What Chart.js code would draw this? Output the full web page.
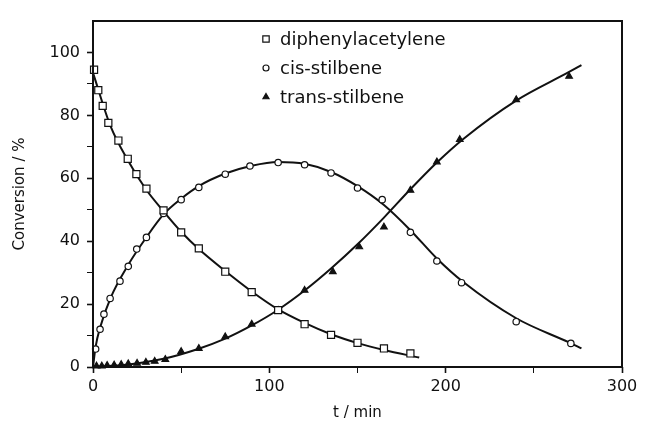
<!DOCTYPE html>
<html>
<head>
<meta charset="utf-8">
<script src="https://cdn.jsdelivr.net/npm/chart.js@4.4.1/dist/chart.umd.min.js"></script>
<style>
  html, body { margin: 0; padding: 0; background: #fff; }
  #wrap { width: 647px; height: 430px; }
</style>
</head>
<body>
<div id="wrap"><canvas id="conv" width="647" height="430"></canvas></div>
<script>
// measured points (t in min, conversion in %)
const tDiph = [0.6, 3, 5.5, 8.7, 14.4, 19.7, 24.6, 30.3, 40, 50, 60, 75, 90, 105, 120, 135, 150, 165, 180];
const diph  = [94.5, 88, 83, 77.6, 72, 66.2, 61.3, 56.7, 49.8, 42.8, 37.7, 30.3, 23.8, 18.1, 13.6, 10.2, 7.7, 5.9, 4.3];

const tCis = [1.5, 4, 6.2, 9.7, 15.3, 20, 24.8, 30.3, 40, 50, 60, 75, 89, 105, 120, 135, 150, 164, 180, 195, 209, 240, 271];
const cis  = [5.7, 12, 16.8, 21.8, 27.3, 32, 37.5, 41.2, 48.8, 53.2, 57.1, 61.3, 63.9, 65, 64.3, 61.7, 56.9, 53.2, 42.8, 33.7, 26.8, 14.4, 7.5];

const tTrans = [2, 5, 8, 12, 16, 20, 25, 30, 35, 41, 50, 60, 75, 90, 105, 120, 136, 151, 165, 180, 195, 208, 240, 270];
const trans  = [0.3, 0.3, 0.5, 0.6, 0.8, 1, 1.2, 1.5, 1.8, 2.4, 4.9, 5.9, 9.6, 13.6, 18, 24.4, 30.3, 38.2, 44.5, 56.2, 65.2, 72.3, 85, 92.4];

// fitted curves
const tFitDiph = [0, 10, 20, 30, 40, 50, 60, 75, 90, 105, 120, 135, 150, 165, 185];
const fitDiph  = [93.5, 76.5, 65.5, 56.5, 49.5, 43, 37.5, 30.5, 24, 18.3, 14, 10.4, 7.6, 5.4, 3];

const tFitCis = [0, 1.5, 4, 10, 20, 30, 40, 50, 60, 75, 90, 105, 120, 135, 150, 165, 180, 195, 210, 240, 270, 277];
const fitCis  = [0, 6.5, 12.5, 22, 32.5, 41, 48.5, 53.5, 57.5, 61.5, 64, 65.2, 64.6, 62, 57.5, 51.5, 43.5, 34.5, 27, 15.5, 7.8, 5.9];

const tFitTrans = [0, 20, 40, 60, 75, 90, 105, 120, 135, 150, 165, 180, 195, 210, 240, 270, 277];
const fitTrans  = [0, 0.8, 2.6, 5.8, 9, 13.2, 18.2, 24.3, 31.3, 39, 47.5, 56.5, 65, 72.5, 84.7, 93.8, 96];

const legendNames = ['diphenylacetylene', 'cis-stilbene', 'trans-stilbene'];

const xTicks = [0, 100, 200, 300];
const yTicks = [0, 20, 40, 60, 80, 100];

const FONT = "'DejaVu Sans', sans-serif";
const INK = '#111';

function pts(xs, ys) { return xs.map((x, i) => ({ x: x, y: ys[i] })); }

function curve(xs, ys) {
    return {
        data: pts(xs, ys),
        showLine: true,
        borderColor: INK,
        borderWidth: 2,
        pointRadius: 0,
        cubicInterpolationMode: 'monotone',
        order: 2
    };
}

function marks(xs, ys, style, fill, r) {
    return {
        data: pts(xs, ys),
        showLine: false,
        pointStyle: style,
        pointRadius: r,
        pointBackgroundColor: fill,
        pointBorderColor: INK,
        pointBorderWidth: 1.2,
        clip: false,
        order: 1
    };
}

// frame + legend inside the plot
const framePlugin = {
    id: 'frame',
    afterDraw(chart) {
        const { ctx, chartArea: a } = chart;
        ctx.save();
        ctx.strokeStyle = INK;
        ctx.lineWidth = 2;
        ctx.strokeRect(a.left, a.top, a.right - a.left, a.bottom - a.top);

        const styles = [['rect', '#fff', 4.5], ['circle', '#fff', 3], ['triangle', INK, 3.5]];
        ctx.font = '18px ' + FONT;
        ctx.textBaseline = 'middle';
        legendNames.forEach((name, i) => {
            const y = 39 + i * 29;
            ctx.fillStyle = styles[i][1];
            ctx.strokeStyle = INK;
            ctx.lineWidth = 1.2;
            Chart.helpers.drawPoint(ctx, { pointStyle: styles[i][0], radius: styles[i][2], rotation: 0, borderWidth: 1.2 }, 266, y);
            ctx.fillStyle = INK;
            ctx.fillText(name, 280, y + 1);
        });
        ctx.restore();
    }
};

const tickCol = (ctx) => (ctx.tick && ctx.tick.value > 100 && ctx.scale.axis === 'y') ? 'rgba(0,0,0,0)' : INK;

new Chart(document.getElementById('conv'), {
    type: 'scatter',
    data: {
        datasets: [
            curve(tFitDiph, fitDiph),
            curve(tFitCis, fitCis),
            curve(tFitTrans, fitTrans),
            marks(tDiph, diph, 'rect', '#fff', 5),
            marks(tCis, cis, 'circle', '#fff', 3.2),
            marks(tTrans, trans, 'triangle', INK, 3.8)
        ]
    },
    options: {
        responsive: false,
        devicePixelRatio: 1,
        animation: false,
        layout: { padding: { left: 0, top: 21, right: 25, bottom: 0 } },
        plugins: { legend: { display: false }, tooltip: { enabled: false } },
        scales: {
            x: {
                type: 'linear',
                min: 0, max: 300,
                afterFit: (s) => { s.height = 63; },
                ticks: {
                    stepSize: 50,
                    color: INK,
                    padding: 4,
                    maxRotation: 0,
                    font: { family: FONT, size: 16 },
                    callback: (v) => xTicks.includes(v) ? String(v) : ''
                },
                grid: {
                    drawOnChartArea: false, tickLength: 6, tickColor: tickCol,
                    tickWidth: (ctx) => (ctx.tick && xTicks.includes(ctx.tick.value)) ? 1.6 : 1
                },
                border: { display: false },
                title: {
                    display: true, text: 't / min', color: INK,
                    font: { family: FONT, size: 15 },
                    padding: { top: 0, bottom: 8 }
                }
            },
            y: {
                min: 0, max: 110,
                afterFit: (s) => { s.width = 93; },
                ticks: {
                    stepSize: 10,
                    color: INK,
                    padding: 7,
                    font: { family: FONT, size: 16 },
                    callback: (v) => yTicks.includes(v) ? String(v) : ''
                },
                grid: {
                    drawOnChartArea: false, tickLength: 6, tickColor: tickCol,
                    tickWidth: (ctx) => (ctx.tick && yTicks.includes(ctx.tick.value)) ? 1.6 : 1
                },
                border: { display: false },
                title: {
                    display: true, text: 'Conversion / %', color: INK,
                    font: { family: FONT, size: 15 },
                    padding: { top: 11, bottom: 0 }
                }
            }
        }
    },
    plugins: [framePlugin]
});
</script>
</body>
</html>
